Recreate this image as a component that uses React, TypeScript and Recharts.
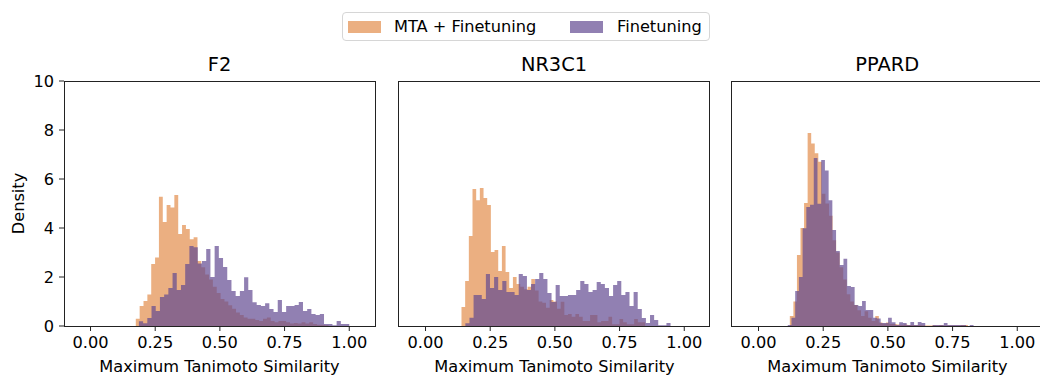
import React from 'react'
import { ComposedChart, Area, XAxis, YAxis } from 'recharts'

// shared axes
const X_DOMAIN = [-0.1025, 1.0995]
const X_TICKS = [0, 0.25, 0.5, 0.75, 1]
const Y_TICKS = [0, 2, 4, 6, 8, 10]

const SERIES_NAMES = ['MTA + Finetuning', 'Finetuning']
const PANEL_TITLES = ['F2', 'NR3C1', 'PPARD']

// histogram densities, 50 bins over [lo, hi] for each series
const F2_MTA_RANGE = [0.175, 0.92]
const F2_MTA = [
  0.30, 0.82, 1.02, 1.29, 2.53, 2.80, 5.28, 4.24, 4.94, 4.84,
  5.35, 3.76, 4.12, 3.96, 3.54, 3.62, 2.65, 2.40, 2.10, 1.90,
  1.60, 1.35, 1.10, 1.00, 0.85, 0.70, 0.55, 0.45, 0.35, 0.30,
  0.30, 0.25, 0.20, 0.30, 0.35, 0.20, 0.15, 0.20, 0.20, 0.15,
  0.10, 0.12, 0.10, 0.15, 0.10, 0.15, 0.08, 0.05, 0.05, 0.03,
]
const F2_FT_RANGE = [0.187, 1.0]
const F2_FT = [
  0.19, 0.11, 0.33, 0.82, 0.61, 1.18, 1.29, 1.55, 2.16, 1.47,
  1.67, 2.53, 3.27, 3.21, 2.55, 2.65, 3.14, 2.00, 3.27, 2.78,
  2.41, 1.88, 1.43, 1.22, 1.43, 1.99, 1.47, 0.97, 0.86, 0.82,
  0.93, 0.69, 0.57, 1.06, 0.57, 0.82, 0.82, 0.86, 0.98, 0.61,
  0.69, 0.49, 0.45, 0.49, 0.08, 0.08, 0.03, 0.20, 0.08, 0.08,
]

const NR3C1_MTA_RANGE = [0.139, 0.849]
const NR3C1_MTA = [
  0.78, 1.84, 3.67, 5.59, 5.13, 5.63, 5.22, 4.94, 3.02, 3.10,
  2.24, 3.27, 2.20, 1.55, 2.00, 1.71, 1.60, 1.50, 1.60, 1.92,
  1.45, 1.00, 0.95, 0.75, 1.06, 1.00, 0.70, 0.99, 0.45, 0.49,
  0.38, 0.49, 0.38, 0.20, 0.20, 0.45, 0.45, 0.15, 0.20, 0.20,
  0.38, 0.07, 0.07, 0.29, 0.15, 0.07, 0.07, 0.29, 0.15, 0.15,
]
const NR3C1_FT_RANGE = [0.154, 0.947]
const NR3C1_FT = [
  0.11, 0.34, 1.27, 1.27, 1.10, 2.12, 1.55, 2.00, 1.47, 1.84,
  1.39, 1.39, 1.27, 2.12, 2.04, 1.47, 1.71, 1.92, 2.16, 1.92,
  1.35, 0.98, 1.67, 1.22, 1.22, 1.27, 1.27, 1.47, 1.84, 1.71,
  1.39, 1.47, 1.80, 1.71, 1.55, 1.22, 1.67, 1.84, 1.27, 1.39,
  0.82, 1.39, 0.69, 0.33, 0.12, 0.45, 0.24, 0.03, 0.03, 0.12,
]

const PPARD_MTA_RANGE = [0.121, 0.809]
const PPARD_MTA = [
  0.41, 1.00, 2.90, 4.00, 5.02, 7.88, 7.45, 7.05, 6.70, 5.40,
  5.00, 4.50, 3.50, 3.00, 2.40, 1.90, 1.30, 1.00, 0.86, 0.64,
  0.41, 0.60, 0.34, 0.20, 0.41, 0.14, 0.10, 0.14, 0.08, 0.08,
  0.06, 0.04, 0.06, 0.04, 0.04, 0.03, 0.04, 0.03, 0.02, 0.02,
  0.03, 0.02, 0.04, 0.02, 0.02, 0.02, 0.02, 0.02, 0.04, 0.04,
]
const PPARD_FT_RANGE = [0.113, 0.831]
const PPARD_FT = [
  0.04, 0.34, 1.43, 2.00, 3.99, 4.86, 4.95, 6.86, 4.99, 6.78,
  6.35, 5.13, 3.92, 3.06, 2.49, 2.75, 1.63, 1.59, 0.86, 0.82,
  1.02, 0.65, 0.65, 0.34, 0.31, 0.12, 0.12, 0.34, 0.15, 0.04,
  0.15, 0.12, 0.04, 0.16, 0.04, 0.16, 0.12, 0.00, 0.00, 0.04,
  0.04, 0.04, 0.12, 0.04, 0.04, 0.04, 0.04, 0.04, 0.00, 0.04,
]

const ORANGE = '#E28D4C'
const PURPLE = '#624A91'
const ALPHA = 0.7
const FONT = '"DejaVu Sans", sans-serif'
const FS = 16.2

// bin edges -> points for a stepAfter area
function toSteps(range: number[], heights: number[]) {
  const w = (range[1] - range[0]) / heights.length
  const pts = heights.map((h, i) => ({ x: range[0] + i * w, y: h }))
  pts.push({ x: range[1], y: 0 })
  return pts
}

const PANELS = [
  { title: PANEL_TITLES[0], mta: toSteps(F2_MTA_RANGE, F2_MTA), ft: toSteps(F2_FT_RANGE, F2_FT) },
  { title: PANEL_TITLES[1], mta: toSteps(NR3C1_MTA_RANGE, NR3C1_MTA), ft: toSteps(NR3C1_FT_RANGE, NR3C1_FT) },
  { title: PANEL_TITLES[2], mta: toSteps(PPARD_MTA_RANGE, PPARD_MTA), ft: toSteps(PPARD_FT_RANGE, PPARD_FT) },
]

const PLOT_LEFT = [64, 398.5, 731.7]
const PLOT_W = 311
const PLOT_TOP = 81
const PLOT_H = 245
const PAD_TOP = 12
const AXIS_COLOR = '#222'

function Panel({ index }: { index: number }) {
  const p = PANELS[index]
  const showY = index === 0
  const yw = showY ? 64 : 0
  return (
    <div style={{ position: 'absolute', left: PLOT_LEFT[index] - yw, top: PLOT_TOP - PAD_TOP }}>
      <ComposedChart width={yw + PLOT_W} height={PAD_TOP + 294} margin={{ top: PAD_TOP, right: 0, bottom: 0, left: 0 }}>
        <XAxis
          type="number"
          dataKey="x"
          domain={X_DOMAIN}
          allowDataOverflow
          ticks={X_TICKS}
          interval={0}
          tickFormatter={(v: number) => v.toFixed(2)}
          height={49}
          tickSize={5}
          tickMargin={5}
          axisLine={false}
          stroke={AXIS_COLOR}
          tick={{ fill: '#000', fontSize: FS }}
          label={{ value: 'Maximum Tanimoto Similarity', position: 'insideBottom', offset: 3, fill: '#000', fontSize: FS }}
        />
        <YAxis
          type="number"
          domain={[0, 10]}
          allowDataOverflow
          ticks={Y_TICKS}
          interval={0}
          width={yw}
          hide={!showY}
          tick={{ fill: '#000', fontSize: FS }}
          tickSize={5}
          tickMargin={5}
          axisLine={false}
          stroke={AXIS_COLOR}
          label={{ value: 'Density', angle: -90, position: 'insideLeft', offset: 18, fill: '#000', fontSize: FS, style: { textAnchor: 'middle' } }}
        />
        <Area data={p.mta} dataKey="y" name={SERIES_NAMES[0]} type="stepAfter" fill={ORANGE} fillOpacity={ALPHA} stroke="none" isAnimationActive={false} />
        <Area data={p.ft} dataKey="y" name={SERIES_NAMES[1]} type="stepAfter" fill={PURPLE} fillOpacity={ALPHA} stroke="none" isAnimationActive={false} />
      </ComposedChart>
      {/* axes frame */}
      <div
        style={{
          position: 'absolute', left: yw - 0.5, top: PAD_TOP - 0.5, width: PLOT_W + 1, height: PLOT_H + 1,
          boxSizing: 'border-box', border: `1.2px solid ${AXIS_COLOR}`, pointerEvents: 'none',
        }}
      />
      <div
        style={{
          position: 'absolute', left: yw, top: PAD_TOP - 28, width: PLOT_W, textAlign: 'center',
          fontSize: 19.4, lineHeight: '24px', color: '#000',
        }}
      >
        {p.title}
      </div>
    </div>
  )
}

function LegendBox() {
  const patch = (c: string, left: number) => ({
    position: 'absolute' as const, left, top: 8, width: 33, height: 12, background: c, opacity: ALPHA,
  })
  const label = (left: number) => ({
    position: 'absolute' as const, left, top: 0, lineHeight: '28px', fontSize: FS, color: '#000', whiteSpace: 'nowrap' as const,
  })
  return (
    <div
      style={{
        position: 'absolute', left: 342, top: 12, width: 368, height: 29, boxSizing: 'border-box',
        border: '1px solid #d6d6d6', borderRadius: 4, background: '#fff',
      }}
    >
      <span style={patch(ORANGE, 5)} />
      <span style={label(51)}>{SERIES_NAMES[0]}</span>
      <span style={patch(PURPLE, 227)} />
      <span style={label(274)}>{SERIES_NAMES[1]}</span>
    </div>
  )
}

export default function App() {
  return (
    <div
      style={{
        position: 'absolute', left: 0, top: 0, width: 1040, height: 375,
        overflow: 'hidden', background: '#fff', fontFamily: FONT,
      }}
    >
      <LegendBox />
      {PANELS.map((_, i) => (
        <Panel key={i} index={i} />
      ))}
    </div>
  )
}
